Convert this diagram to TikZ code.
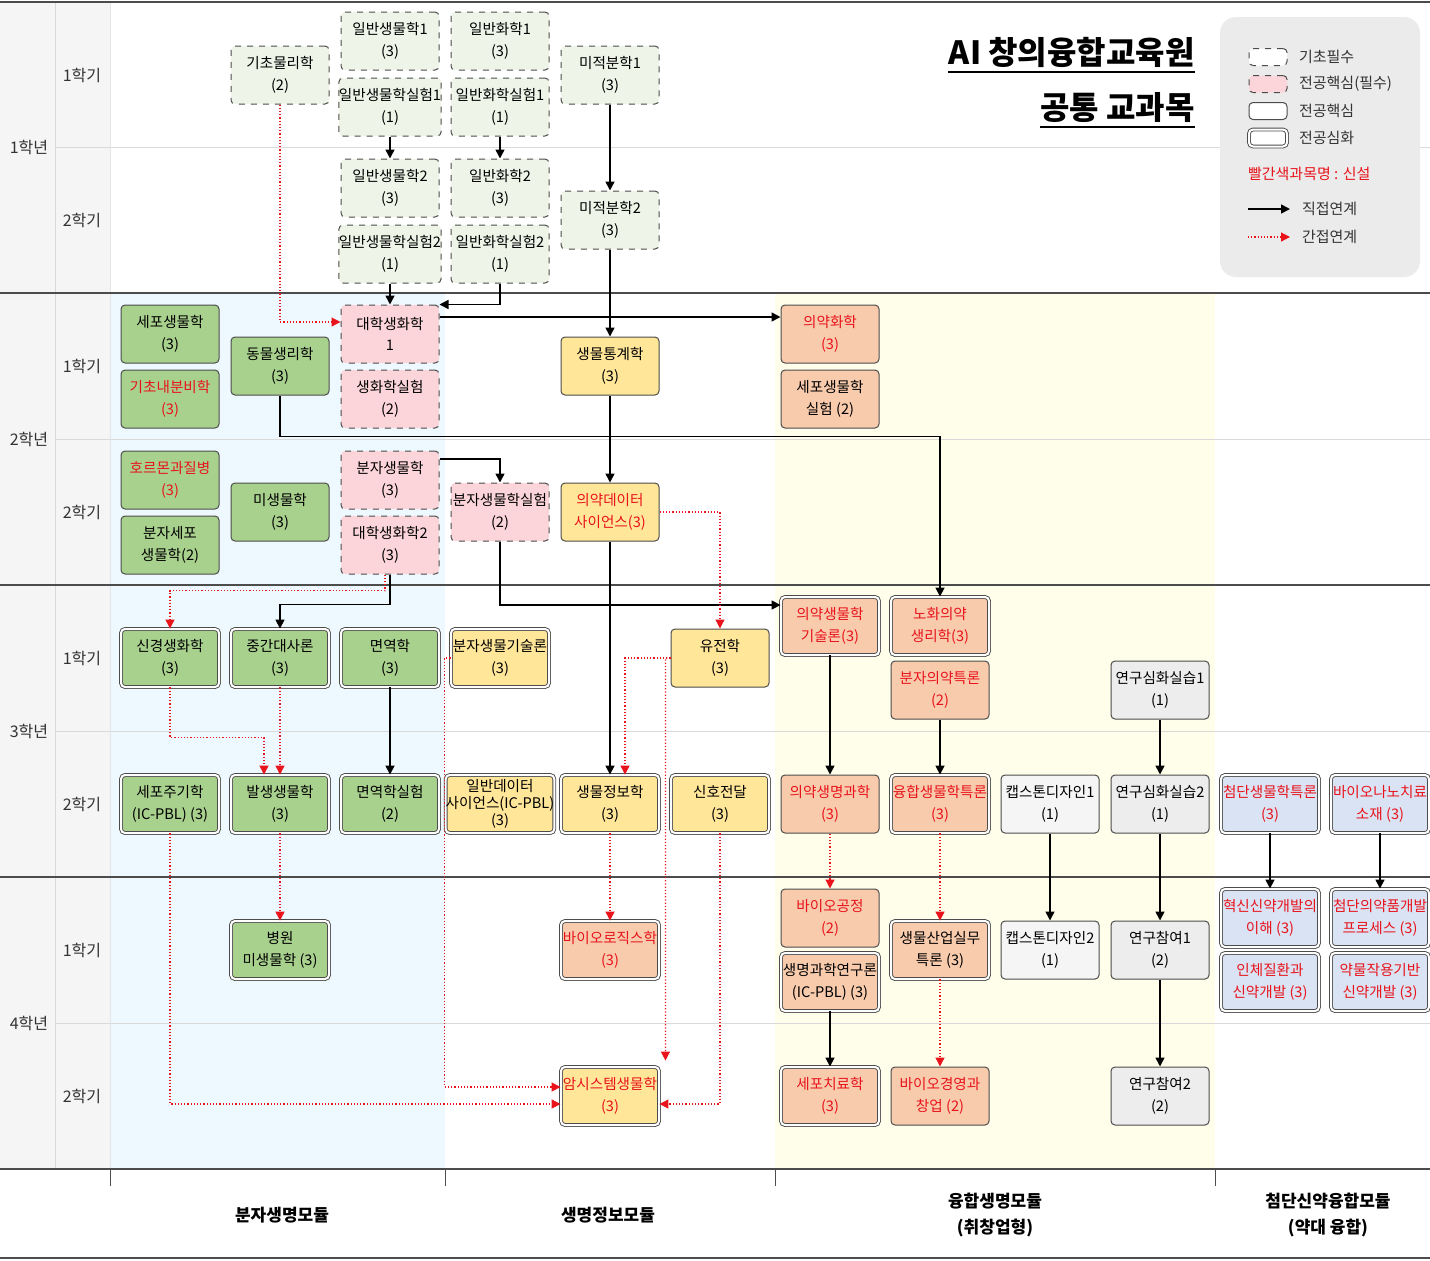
\documentclass[tikz,border=0pt]{standalone}
\usepackage{fontspec}
\setmainfont{Noto Sans CJK KR}
\usetikzlibrary{arrows.meta}
\definecolor{cG}{HTML}{A9D18E}
\definecolor{cY}{HTML}{FFE699}
\definecolor{cS}{HTML}{F8CBAD}
\definecolor{cGr}{HTML}{EDEDED}
\definecolor{cB}{HTML}{DAE3F3}
\definecolor{cP}{HTML}{FCD5DA}
\definecolor{cR}{HTML}{EEF5E8}
\definecolor{cNew}{HTML}{E8131B}
\tikzset{
 box/.style={rounded corners=2pt, minimum width=49pt, minimum height=29pt, inner sep=0pt, align=center, draw=black!70, line width=0.5pt, font=\fontsize{7.3}{10.8}\selectfont},
 req/.style={box, dashed, fill=cR},
 pk/.style={box, dashed, fill=cP},
 dbl/.style={double, double distance=1pt, line width=0.45pt},
 G/.style={box, fill=cG}, Y/.style={box, fill=cY}, S/.style={box, fill=cS},
 Gr/.style={box, fill=cGr}, B/.style={box, fill=cB},
 new/.style={text=cNew},
 arr/.style={-{Triangle[width=4.5pt,length=4.5pt]}, line width=0.8pt},
 ind/.style={cNew, densely dotted, line width=0.6pt, -{Triangle[width=4.5pt,length=4.5pt]}},
 lab/.style={font=\fontsize{8}{10}\selectfont, text=black!80},
 mod/.style={font=\bfseries\fontsize{8.5}{13}\selectfont, align=center},
 leg/.style={font=\fontsize{7.5}{9}\selectfont, anchor=west, text=black!80},
}
\begin{document}
\begin{tikzpicture}[x=0.5pt,y=-0.5pt]
\useasboundingbox (0,0) rectangle (1430,1260);
% backgrounds
\fill[black!4] (0,2) rectangle (110,1169);
\fill[cyan!7] (110,293) rectangle (445,1169);
\fill[yellow!8] (775,293) rectangle (1215,1169);
% lines
\foreach \y in {147,439,731,1023} \draw[black!15, line width=0.4pt] (55,\y) -- (1430,\y);
\draw[black!15, line width=0.4pt] (55,2) -- (55,1169);
\draw[black!10, line width=0.4pt] (110,2) -- (110,1169);
\foreach \y in {2,293,585,877,1169,1258} \draw[black!70, line width=0.6pt] (0,\y) -- (1430,\y);
\foreach \x in {110,445,775,1215} \draw[black!70, line width=0.5pt] (\x,1169) -- (\x,1186);
% row labels
\node[lab] (y1) at (29,147) {1학년}; \node[lab] (y2) at (29,439) {2학년};
\node[lab] (y3) at (29,731) {3학년}; \node[lab] (y4) at (29,1023) {4학년};
\foreach \n/\y in {a/75,b/366,c/658,d/950} \node[lab] (s1\n) at (82,\y) {1학기};
\foreach \n/\y in {a/220,b/512,c/804,d/1096} \node[lab] (s2\n) at (82,\y) {2학기};
% module labels
\node[mod] (m1) at (282,1215) {분자생명모듈};
\node[mod] (m2) at (608,1215) {생명정보모듈};
\node[mod] (m3) at (995,1215) {융합생명모듈\\(취창업형)};
\node[mod] (m4) at (1328,1215) {첨단신약융합모듈\\(약대 융합)};
% title
\node[anchor=south east, inner sep=0pt, font=\bfseries\fontsize{16}{18}\selectfont] (t1) at (1195,68) {AI 창의융합교육원};
\node[anchor=south east, inner sep=0pt, font=\bfseries\fontsize{16}{18}\selectfont] (t2) at (1195,123) {공통 교과목};
\draw[line width=1.4pt] ([yshift=-2pt]t1.south west) -- ([yshift=-2pt]t1.south east);
\draw[line width=1.4pt] ([yshift=-2pt]t2.south west) -- ([yshift=-2pt]t2.south east);
% legend
\fill[black!8, rounded corners=8pt] (1220,17) rectangle (1420,277);
\node[box, dashed, fill=white, minimum width=19pt, minimum height=8.5pt, rounded corners=2pt] (l1) at (1268,57) {};
\node[pk, minimum width=19pt, minimum height=8.5pt] (l2) at (1268,84) {};
\node[box, fill=white, minimum width=19pt, minimum height=8.5pt] (l3) at (1268,111) {};
\node[box, dbl, fill=white, minimum width=19pt, minimum height=8.5pt] (l4) at (1268,138) {};
\node[leg] (lt1) at (1292,57) {기초필수};
\node[leg] (lt2) at (1292,84) {전공핵심(필수)};
\node[leg] (lt3) at (1292,111) {전공핵심};
\node[leg] (lt4) at (1292,138) {전공심화};
\node[leg, text=cNew] (lt5) at (1241,174) {빨간색과목명 : 신설};
\coordinate (la1) at (1248,209); \coordinate (la2) at (1290,209);
\coordinate (lb1) at (1248,237); \coordinate (lb2) at (1290,237);
\draw[arr] (la1) -- (la2); \draw[ind] (lb1) -- (lb2);
\node[leg] (lt6) at (1295,209) {직접연계};
\node[leg] (lt7) at (1295,237) {간접연계};
% Year 1
\node[req] (phys) at (280,75) {기초물리학\\(2)};
\node[req] (gb1) at (390,41) {일반생물학1\\(3)};
\node[req] (gbl1) at (390,107) {일반생물학실험1\\(1)};
\node[req] (gc1) at (500,41) {일반화학1\\(3)};
\node[req] (gcl1) at (500,107) {일반화학실험1\\(1)};
\node[req] (calc1) at (610,75) {미적분학1\\(3)};
\node[req] (gb2) at (390,188) {일반생물학2\\(3)};
\node[req] (gbl2) at (390,254) {일반생물학실험2\\(1)};
\node[req] (gc2) at (500,188) {일반화학2\\(3)};
\node[req] (gcl2) at (500,254) {일반화학실험2\\(1)};
\node[req] (calc2) at (610,220) {미적분학2\\(3)};
% Year 2
\node[G] (cell) at (170,334) {세포생물학\\(3)};
\node[G, new] (endo) at (170,399) {기초내분비학\\(3)};
\node[G] (dong) at (280,366) {동물생리학\\(3)};
\node[pk] (bio1) at (390,334) {대학생화학\\1};
\node[pk] (biolab) at (390,399) {생화학실험\\(2)};
\node[Y] (stat) at (610,366) {생물통계학\\(3)};
\node[S, new] (uiyak) at (830,334) {의약화학\\(3)};
\node[S] (celllab) at (830,399) {세포생물학\\실험 (2)};
\node[G, new] (hormone) at (170,480) {호르몬과질병\\(3)};
\node[G] (molcell) at (170,545) {분자세포\\생물학(2)};
\node[G] (micro) at (280,512) {미생물학\\(3)};
\node[pk] (mol) at (390,480) {분자생물학\\(3)};
\node[pk] (bio2) at (390,545) {대학생화학2\\(3)};
\node[pk] (molex) at (500,512) {분자생물학실험\\(2)};
\node[Y, new] (mds) at (610,512) {의약데이터\\사이언스(3)};
% Year 3
\node[G, dbl] (neuro) at (170,658) {신경생화학\\(3)};
\node[G, dbl] (jung) at (280,658) {중간대사론\\(3)};
\node[G, dbl] (immu) at (390,658) {면역학\\(3)};
\node[Y, dbl] (mbt) at (500,658) {분자생물기술론\\(3)};
\node[Y] (yj) at (720,658) {유전학\\(3)};
\node[S, dbl, new] (ysg) at (830,626) {의약생물학\\기술론(3)};
\node[S, dbl, new] (nohwa) at (940,626) {노화의약\\생리학(3)};
\node[S, new] (bunja) at (940,690) {분자의약특론\\(2)};
\node[Gr] (rs1) at (1160,690) {연구심화실습1\\(1)};
\node[G, dbl] (sejugi) at (170,804) {세포주기학\\(IC-PBL) (3)};
\node[G, dbl] (bal) at (280,804) {발생생물학\\(3)};
\node[G, dbl] (immlab) at (390,804) {면역학실험\\(2)};
\node[Y, dbl, font=\fontsize{7.3}{8.5}\selectfont] (gds) at (500,804) {일반데이터\\사이언스(IC-PBL)\\(3)};
\node[Y, dbl] (binf) at (610,804) {생물정보학\\(3)};
\node[Y, dbl] (sinho) at (720,804) {신호전달\\(3)};
\node[S, new] (ums) at (830,804) {의약생명과학\\(3)};
\node[S, dbl, new] (yunghap) at (940,804) {융합생물학특론\\(3)};
\node[Gr, fill=black!4] (cap1) at (1050,804) {캡스톤디자인1\\(1)};
\node[Gr] (rs2) at (1160,804) {연구심화실습2\\(1)};
\node[B, dbl, new] (cheom) at (1270,804) {첨단생물학특론\\(3)};
\node[B, dbl, new] (nano) at (1380,804) {바이오나노치료\\소재 (3)};
% Year 4
\node[G, dbl] (byeong) at (280,950) {병원\\미생물학 (3)};
\node[S, dbl, new] (blg) at (610,950) {바이오로직스학\\(3)};
\node[S, new] (bgong) at (830,918) {바이오공정\\(2)};
\node[S, dbl] (sgr) at (830,982) {생명과학연구론\\(IC-PBL) (3)};
\node[S, dbl] (saneop) at (940,950) {생물산업실무\\특론 (3)};
\node[Gr, fill=black!4] (cap2) at (1050,950) {캡스톤디자인2\\(1)};
\node[Gr] (rp1) at (1160,950) {연구참여1\\(2)};
\node[B, dbl, new] (hyeok) at (1270,918) {혁신신약개발의\\이해 (3)};
\node[B, dbl, new] (inche) at (1270,982) {인체질환과\\신약개발 (3)};
\node[B, dbl, new] (process) at (1380,918) {첨단의약품개발\\프로세스 (3)};
\node[B, dbl, new] (drug) at (1380,982) {약물작용기반\\신약개발 (3)};
\node[Y, dbl, new] (amsys) at (610,1096) {암시스템생물학\\(3)};
\node[S, dbl, new] (celltx) at (830,1096) {세포치료학\\(3)};
\node[S, new] (bizc) at (940,1096) {바이오경영과\\창업 (2)};
\node[Gr] (rp2) at (1160,1096) {연구참여2\\(2)};
% direct arrows
\draw[arr] (gbl1) -- (gb2);
\draw[arr] (gcl1) -- (gc2);
\draw[arr] (calc1) -- (calc2);
\draw[arr] (gbl2) -- (bio1);
\draw[arr] (gcl2.south) |- (bio1.north east);
\draw[arr] (calc2) -- (stat);
\draw[arr] ([yshift=8.5pt]bio1.east) -- ([yshift=8.5pt]uiyak.west);
\draw[arr] (dong.south) -- ++(0,41) -| (nohwa.north);
\draw[arr] (stat) -- (mds);
\draw[arr] ([yshift=10.5pt]mol.east) -| (molex.north);
\draw[arr] (molex.south) |- ([yshift=10.5pt]ysg.west);
\draw[arr] (bio2.south) -- ++(0,30) -| (jung.north);
\draw[arr] (mds) -- (binf);
\draw[arr] (immu) -- (immlab);
\draw[arr] (ysg) -- (ums);
\draw[arr] (bunja) -- (yunghap);
\draw[arr] (rs1) -- (rs2);
\draw[arr] (cap1) -- (cap2);
\draw[arr] (rs2) -- (rp1);
\draw[arr] (cheom) -- (hyeok);
\draw[arr] (nano) -- (process);
\draw[arr] (sgr) -- (celltx);
\draw[arr] (rp1) -- (rp2);
% indirect arrows
\draw[ind] (phys.south) |- ([yshift=6pt]bio1.west);
\draw[ind] ([xshift=-2.5pt]bio2.south) -- ++(0,16) -| (neuro.north);
\draw[ind] (mds.east) -| (yj.north);
\draw[ind] (neuro.south) -- ++(0,50) -| ([xshift=-8pt]bal.north);
\draw[ind] (jung) -- (bal);
\draw[ind] (yj.west) -| ([xshift=7.5pt]binf.north);
\draw[ind] (yj.west) -- ++(-5,0) -- ([shift={(6,-6)}]amsys.north east);
\draw[ind] (mbt.west) -- ++(-6,0) |- ([yshift=4.5pt]amsys.west);
\draw[ind] (sejugi.south) |- ([yshift=-4pt]amsys.west);
\draw[ind] (sinho.south) |- ([yshift=-4pt]amsys.east);
\draw[ind] (bal) -- (byeong);
\draw[ind] (binf) -- (blg);
\draw[ind] (ums) -- (bgong);
\draw[ind] (yunghap) -- (saneop);
\draw[ind] (saneop) -- (bizc);
\end{tikzpicture}
\end{document}
